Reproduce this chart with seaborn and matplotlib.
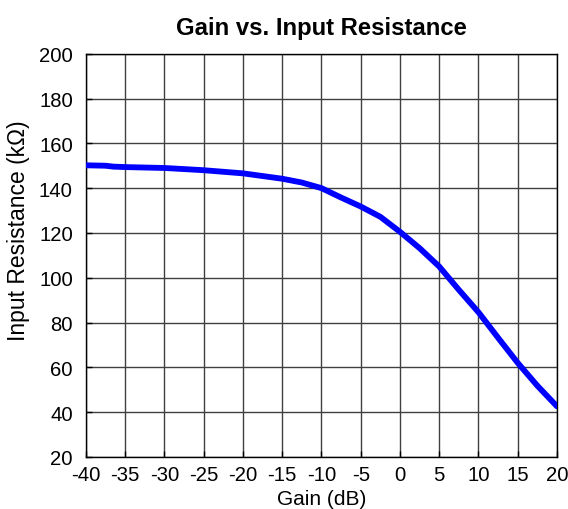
import matplotlib
matplotlib.use("Agg")
import matplotlib.pyplot as plt
import seaborn as sns
import pandas as pd

# Gain sweep and measured input resistance
gain_db = [-40, -37.5, -36.5, -35, -30, -25, -20, -15, -12.5, -10, -7.5, -5, -2.5,
           0, 2.5, 5, 7.5, 10, 12.5, 15, 17.5, 20]
input_res_kohm = [150.2, 150.0, 149.6, 149.4, 149.0, 148.0, 146.6, 144.2, 142.5, 140.0,
                  135.8, 131.8, 127.2, 120.5, 113.2, 105.0, 94.6, 84.6, 73.2, 62.0,
                  51.8, 42.6]

x_ticks = [-40, -35, -30, -25, -20, -15, -10, -5, 0, 5, 10, 15, 20]
y_ticks = [20, 40, 60, 80, 100, 120, 140, 160, 180, 200]

df = pd.DataFrame({"Gain (dB)": gain_db, "Input Resistance (kΩ)": input_res_kohm})

sns.set_theme(style="white")
plt.rcParams["font.family"] = ["Liberation Sans", "DejaVu Sans"]
plt.rcParams["axes.unicode_minus"] = False
plt.rcParams["text.color"] = "black"
plt.rcParams["axes.labelcolor"] = "black"

fig, ax = plt.subplots(figsize=(5.68, 5.10), dpi=100)
fig.subplots_adjust(left=0.1514, right=0.9806, top=0.8927, bottom=0.102)

sns.lineplot(data=df, x="Gain (dB)", y="Input Resistance (kΩ)", ax=ax,
             color="#0000ff", linewidth=4.2, solid_capstyle="round",
             solid_joinstyle="round", zorder=3)

ax.set_xlim(-40, 20)
ax.set_ylim(20, 200)
ax.set_xticks(x_ticks)
ax.set_xticklabels([str(t) for t in x_ticks])
ax.set_yticks(y_ticks)
ax.set_yticklabels([str(t) for t in y_ticks])

ax.grid(True, color="#404040", linewidth=1.0)
for s in ax.spines.values():
    s.set_color("black")
    s.set_linewidth(1.0)

ax.tick_params(axis="both", direction="in", length=4, width=1, colors="black",
               labelsize=14.6, left=True, bottom=True)
ax.tick_params(axis="x", pad=5.5)
ax.tick_params(axis="y", pad=9.5)
ax.set_xlabel("Gain (dB)", fontsize=15, labelpad=4, color="black")
ax.set_ylabel("Input Resistance (kΩ)", fontsize=16.5, color="black")
ax.yaxis.set_label_coords(-0.118, 0.563)
ax.set_title("Gain vs. Input Resistance", fontsize=17.2, fontweight="bold",
             pad=14, color="black")

fig.savefig("out.png", dpi=100)
